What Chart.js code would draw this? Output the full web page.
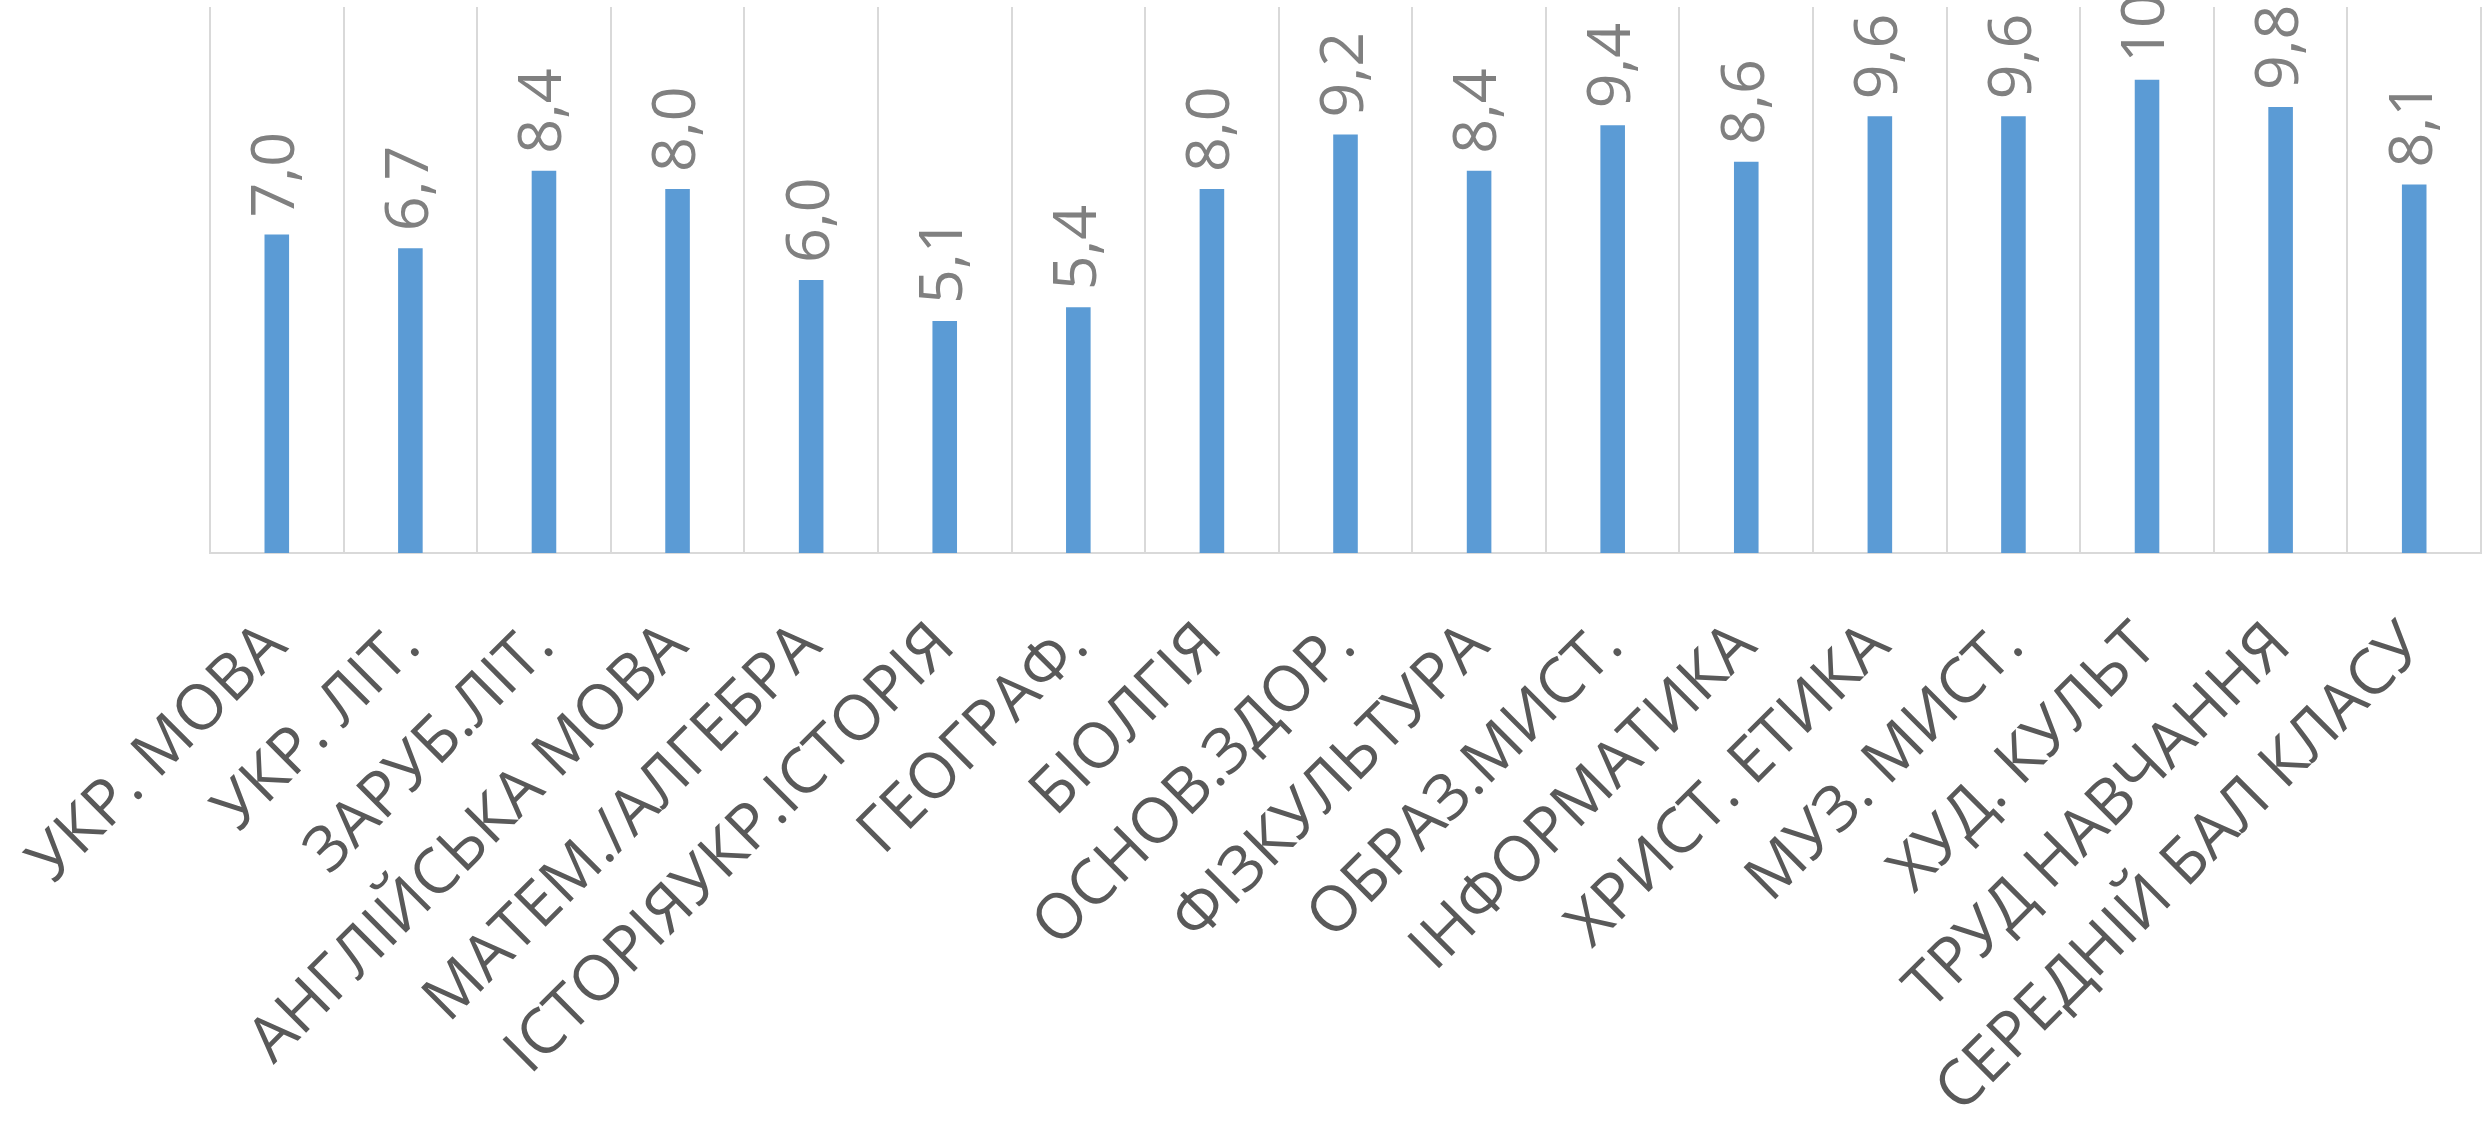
<!DOCTYPE html>
<html>
<head>
<meta charset="utf-8">
<script src="https://cdn.jsdelivr.net/npm/chart.js@4.4.1/dist/chart.umd.min.js"></script>
<style>
  html, body { margin: 0; padding: 0; background: #ffffff; }
  #wrap { width: 2486px; height: 1129px; }
</style>
</head>
<body>
<div id="wrap"><canvas id="c" width="2486" height="1129"></canvas></div>
<script>
const categories = [
  "УКР. МОВА", "УКР. ЛІТ.", "ЗАРУБ.ЛІТ.", "АНГЛІЙСЬКА МОВА", "МАТЕМ./АЛГЕБРА",
  "ІСТОРІЯУКР.ІСТОРІЯ", "ГЕОГРАФ.", "БІОЛГІЯ", "ОСНОВ.ЗДОР.", "ФІЗКУЛЬТУРА",
  "ОБРАЗ.МИСТ.", "ІНФОРМАТИКА", "ХРИСТ. ЕТИКА", "МУЗ. МИСТ.", "ХУД. КУЛЬТ",
  "ТРУД НАВЧАННЯ", "СЕРЕДНІЙ БАЛ КЛАСУ"
];
const scores = [7.0, 6.7, 8.4, 8.0, 6.0, 5.1, 5.4, 8.0, 9.2, 8.4, 9.4, 8.6, 9.6, 9.6, 10.4, 9.8, 8.1];
const yMin = 0;
const yMax = 12;

const valueLabels = {
  id: 'valueLabels',
  afterDatasetsDraw(chart) {
    const ctx = chart.ctx;
    const meta = chart.getDatasetMeta(0);
    ctx.save();
    ctx.font = '61px "Open Sans"';
    ctx.fillStyle = '#808080';
    ctx.textAlign = 'left';
    ctx.textBaseline = 'middle';
    meta.data.forEach((bar, i) => {
      const txt = scores[i].toFixed(1).replace('.', ',');
      ctx.save();
      ctx.translate(bar.x, bar.y - 17);
      ctx.rotate(-Math.PI / 2);
      ctx.fillText(txt, 0, 0);
      ctx.restore();
    });
    ctx.restore();
  }
};

new Chart(document.getElementById('c'), {
  type: 'bar',
  data: {
    labels: categories,
    datasets: [{
      data: scores,
      backgroundColor: '#5B9BD5',
      borderWidth: 0,
      categoryPercentage: 1.0,
      barPercentage: 0.184
    }]
  },
  options: {
    responsive: false,
    animation: false,
    devicePixelRatio: 1,
    layout: { padding: { left: 210, right: 5, top: 7, bottom: 0 } },
    plugins: { legend: { display: false }, tooltip: { enabled: false } },
    scales: {
      x: {
        grid: { display: true, color: '#d9d9d9', lineWidth: 2, drawTicks: false, offset: true },
        border: { display: true, color: '#d9d9d9', width: 2 },
        ticks: {
          autoSkip: false,
          maxRotation: 45,
          minRotation: 45,
          padding: 56,
          color: '#595959',
          font: { family: '"Open Sans"', size: 63 }
        },
        afterFit(scale) {
          scale.height = 576;
          scale.paddingLeft = 0;
          scale.paddingRight = 0;
        }
      },
      y: {
        display: false,
        min: yMin,
        max: yMax
      }
    }
  },
  plugins: [valueLabels]
});
</script>
</body>
</html>
